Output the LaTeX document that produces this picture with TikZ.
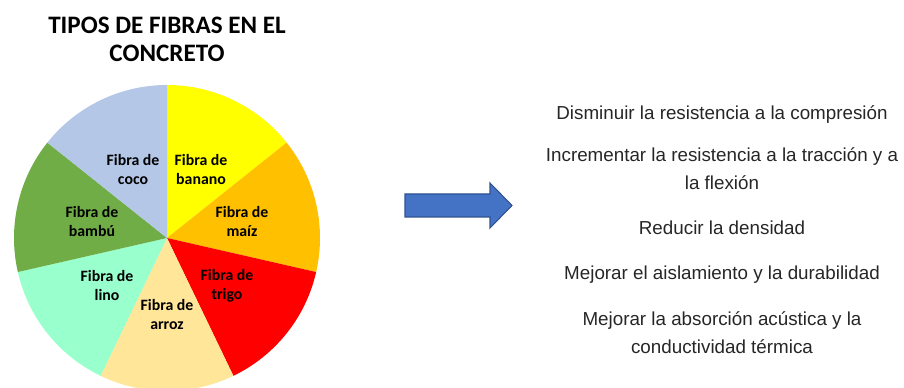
\documentclass[tikz,border=0pt]{standalone}
\usepackage{fontspec}
\setmainfont{Liberation Sans}
\newfontfamily\calibri{Carlito}
\usepackage{tikz}
\usetikzlibrary{positioning,calc}
\definecolor{banano}{HTML}{FFFF00}
\definecolor{maiz}{HTML}{FFC000}
\definecolor{trigo}{HTML}{FF0000}
\definecolor{arroz}{HTML}{FFE699}
\definecolor{lino}{HTML}{99FFCC}
\definecolor{bambu}{HTML}{70AD47}
\definecolor{coco}{HTML}{B4C7E7}
\definecolor{flecha}{HTML}{4472C4}
\definecolor{flechaborde}{HTML}{2F528F}
\definecolor{texto}{HTML}{262626}
\tikzset{
  rotulo/.style={align=center,font=\calibri\bfseries\fontsize{9}{10.8}\selectfont,inner sep=0pt},
  efecto/.style={align=center,text=texto,font=\fontsize{10.7}{16}\selectfont,inner sep=0pt}
}

\begin{document}
\begin{tikzpicture}[x=0.02cm,y=0.02cm]
\useasboundingbox (0,0) rectangle (904,388);
\coordinate (centro) at (167,150);
\node[align=center,font=\calibri\bfseries\fontsize{14.3}{16}\selectfont,inner sep=0pt] (titulo) at (167,349) {TIPOS DE FIBRAS EN EL\\CONCRETO};
\foreach \col [count=\i from 0] in {banano,maiz,trigo,arroz,lino,bambu,coco} {
  \fill[\col] (centro) -- ++({90-\i*360/7}:153) arc[start angle={90-\i*360/7},end angle={90-(\i+1)*360/7},radius=153] -- cycle;
}
\node[rotulo] (f-banano) at (201,218) {Fibra de\\banano};
\node[rotulo] (f-maiz) at (242,166) {Fibra de\\maíz};
\node[rotulo] (f-trigo) at (227,102) {Fibra de\\trigo};
\node[rotulo] (f-arroz) at (167,73) {Fibra de\\arroz};
\node[rotulo] (f-lino) at (107,102) {Fibra de\\lino};
\node[rotulo] (f-bambu) at (92,166) {Fibra de\\bambú};
\node[rotulo] (f-coco) at (133,218) {Fibra de\\coco};

\draw[fill=flecha,draw=flechaborde,line width=0.6pt] (405,194) -- (490,194) -- (490,205) -- (512,182.5) -- (490,160) -- (490,171) -- (405,171) -- cycle;

\node[efecto] (e1) at (722,273) {Disminuir la resistencia a la compresión};
\node[efecto] (e2) at (722,219) {Incrementar la resistencia a la tracción y a\\la flexión};
\node[efecto] (e3) at (722,160) {Reducir la densidad};
\node[efecto] (e4) at (722,113) {Mejorar el aislamiento y la durabilidad};
\node[efecto] (e5) at (722,55.5) {Mejorar la absorción acústica y la\\conductividad térmica};
\end{tikzpicture}
\end{document}
